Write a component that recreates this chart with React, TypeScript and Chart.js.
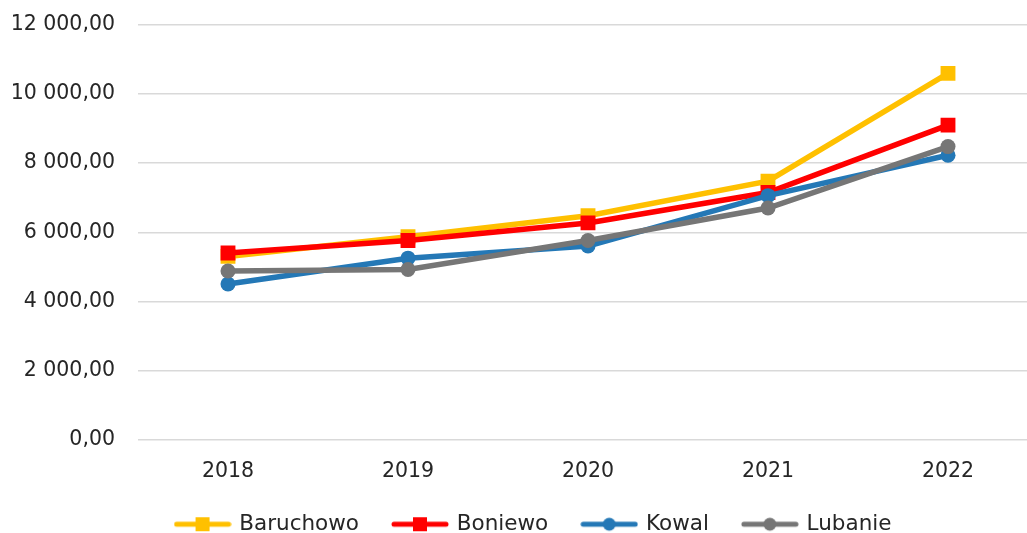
import React, { useEffect, useRef } from "react";
import { Chart, registerables } from "chart.js";

Chart.register(...registerables);

const years = ["2018", "2019", "2020", "2021", "2022"];
const baruchowo = [5300, 5870, 6480, 7480, 10600];
const boniewo = [5400, 5760, 6270, 7150, 9100];
const kowal = [4500, 5250, 5600, 7060, 8230];
const lubanie = [4880, 4920, 5760, 6700, 8480];
const seriesNames = ["Baruchowo", "Boniewo", "Kowal", "Lubanie"];
const seriesColors = ["#FFC000", "#FF0000", "#2478B6", "#767676"];
const seriesMarkers = ["rect", "rect", "circle", "circle"];
const yTicks = [0, 2000, 4000, 6000, 8000, 10000, 12000];

const FONT = "'DejaVu Sans', sans-serif";
const FS = 20.5;

function fmt(v: number): string {
  const intPart = Math.floor(Math.abs(v)).toString();
  const withSpaces = intPart.replace(/\B(?=(\d{3})+(?!\d))/g, " ");
  return withSpaces + ",00";
}

function legendIcon(color: string, marker: string): HTMLCanvasElement {
  const c = document.createElement("canvas");
  c.width = 58;
  c.height = 16;
  const ctx = c.getContext("2d")!;
  ctx.strokeStyle = color;
  ctx.lineWidth = 5;
  ctx.lineCap = "round";
  ctx.beginPath();
  ctx.moveTo(3, 8);
  ctx.lineTo(55, 8);
  ctx.stroke();
  ctx.fillStyle = color;
  if (marker === "rect") {
    ctx.fillRect(29 - 7, 8 - 7, 14, 14);
  } else {
    ctx.beginPath();
    ctx.arc(29, 8, 6.5, 0, Math.PI * 2);
    ctx.fill();
  }
  return c;
}

const shiftLegend = {
  id: "shiftLegend",
  afterLayout(chart: any) {
    if (chart.legend) {
      chart.legend.left += 15;
      chart.legend.right += 15;
    }
  },
};

export default function App() {
  const ref = useRef<HTMLCanvasElement | null>(null);
  useEffect(() => {
    if (!ref.current) return;
    const all = [baruchowo, boniewo, kowal, lubanie];
    const icons = seriesNames.map((_, i) => legendIcon(seriesColors[i], seriesMarkers[i]));
    const chart = new Chart(ref.current, {
      type: "line",
      plugins: [shiftLegend],
      data: {
        labels: years,
        datasets: all.map((d, i) => ({
          label: seriesNames[i],
          data: d,
          borderColor: seriesColors[i],
          backgroundColor: seriesColors[i],
          borderWidth: 5.5,
          pointStyle: seriesMarkers[i] as any,
          pointRadius: seriesMarkers[i] === "rect" ? 10.5 : 7.5,
          pointBorderWidth: 0,
          tension: 0,
          order: 3 - i,
        })),
      },
      options: {
        animation: false,
        responsive: false,
        maintainAspectRatio: false,
        layout: { padding: { top: 25, right: 24, left: 0, bottom: 0 } },
        plugins: {
          tooltip: { enabled: false },
          legend: {
            position: "bottom",
            labels: {
              font: { family: FONT, size: 21.5 },
              color: "#262626",
              usePointStyle: true,
              pointStyleWidth: 52,
              padding: 35,
              sort: (a: any, b: any) => a.datasetIndex - b.datasetIndex,
              generateLabels: (ch: any) => {
                const items = Chart.defaults.plugins.legend.labels.generateLabels(ch);
                return items.map((it: any) => ({ ...it, pointStyle: icons[it.datasetIndex] }));
              },
            },
          },
        },
        scales: {
          x: {
            offset: true,
            grid: { display: false, drawTicks: false },
            border: { display: false },
            ticks: { font: { family: FONT, size: FS }, color: "#262626", padding: 20 },
            afterFit: (s: any) => {
              s.height = 39;
            },
          },
          y: {
            min: 0,
            max: 12000,
            afterBuildTicks: (s: any) => {
              s.ticks = yTicks.map((v) => ({ value: v }));
            },
            grid: { color: "#D9D9D9", lineWidth: 1.5, drawTicks: false },
            border: { display: false },
            ticks: {
              font: { family: FONT, size: FS },
              color: "#262626",
              padding: 23,
              callback: (v: any) => fmt(Number(v)),
            },
            afterFit: (s: any) => {
              s.width = 138;
              s.paddingTop = 0;
              s.paddingBottom = 0;
            },
          },
        },
      },
    });
    return () => chart.destroy();
  }, []);
  return (
    <div style={{ position: "fixed", left: 0, top: 0, width: 1027, height: 533, overflow: "hidden", background: "#fff" }}>
      <canvas ref={ref} width={1062} height={545} style={{ width: 1062, height: 545, display: "block" }} />
    </div>
  );
}
